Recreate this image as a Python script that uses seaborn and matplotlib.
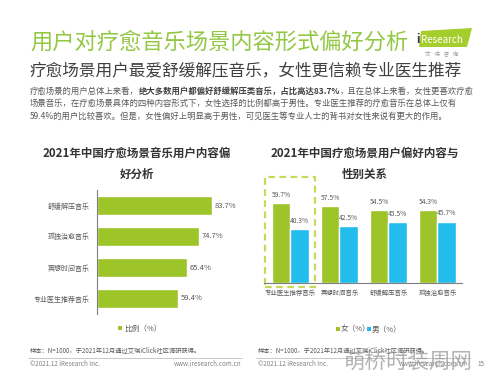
import matplotlib
matplotlib.use('Agg')
import matplotlib.pyplot as plt
import seaborn as sns
import pandas as pd
from matplotlib.patches import Rectangle, Polygon

# data
left_cats = ['舒缓解压音乐', '孤独治愈音乐', '冥想时间音乐', '专业医生推荐音乐']
left_vals = [83.7, 74.7, 65.4, 59.4]

right_cats = ['专业医生推荐音乐', '冥想时间音乐', '舒缓解压音乐', '孤独治愈音乐']
female_vals = [59.7, 57.5, 54.5, 54.3]
male_vals = [40.3, 42.5, 45.5, 45.7]

GREEN = '#9DC428'
BLUE = '#22BDEC'
TITLE_GREEN = '#93C844'
GREY = '#595959'

sns.set_theme(style='white')
plt.rcParams['font.family'] = ['Noto Sans CJK SC', 'DejaVu Sans']

fig = plt.figure(figsize=(4.98, 3.74), dpi=100)

# background axes in pixel coordinates for all the slide text
bg = fig.add_axes([0, 0, 1, 1], zorder=-1)
bg.set_xlim(0, 498)
bg.set_ylim(374, 0)
bg.axis('off')

bg.text(30, 42, '用户对疗愈音乐场景内容形式偏好分析', fontsize=16, color=TITLE_GREEN,
        va='center', ha='left')
bg.text(30, 71, '疗愈场景用户最爱舒缓解压音乐，女性更信赖专业医生推荐', fontsize=12,
        color='#404040', va='center', ha='left')

# iResearch logo
bg.add_patch(Polygon([[421, 31], [472, 28], [467, 47], [419, 47]], closed=True,
                     facecolor='#A5CD2C', edgecolor='none'))
bg.text(416, 39, 'i', fontsize=8.5, color='#333333', va='center', ha='left', fontweight='bold')
bg.text(421, 39.5, 'Research', fontsize=7, color='white', va='center', ha='left')
bg.text(442, 53, '艾   瑞   咨   询', fontsize=4, color='#999999', va='center', ha='center')

# paragraph with bold middle part
para_kw = dict(fontsize=6, color=GREY)
p1 = bg.text(30, 96, '疗愈场景的用户总体上来看，', va='bottom', ha='left', **para_kw)
p2 = bg.annotate('绝大多数用户都偏好舒缓解压类音乐，占比高达83.7%', xy=(1, 0), xycoords=p1,
                 va='bottom', ha='left', fontweight='bold', fontsize=6, color='#404040')
bg.annotate('，且在总体上来看，女性更喜欢疗愈', xy=(1, 0), xycoords=p2,
            va='bottom', ha='left', **para_kw)
bg.text(30, 108, '场景音乐，在疗愈场景具体的四种内容形式下，女性选择的比例都高于男性。专业医生推荐的疗愈音乐在总体上仅有',
        va='bottom', ha='left', **para_kw)
bg.text(30, 121, '59.4%的用户比较喜欢。但是，女性偏好上明显高于男性，可见医生等专业人士的背书对女性来说有更大的作用。',
        va='bottom', ha='left', **para_kw)

# chart titles
bg.text(137, 164, '2021年中国疗愈场景音乐用户内容偏\n好分析', fontsize=8.3, fontweight='bold',
        color='#333333', ha='center', va='center', linespacing=1.75)
bg.text(365, 164, '2021年中国疗愈场景用户偏好内容与\n性别关系', fontsize=8.3, fontweight='bold',
        color='#333333', ha='center', va='center', linespacing=1.75)

# left chart
ax1 = fig.add_axes([97 / 498, 1 - 314 / 374, 137 / 498, 124 / 374])
sns.barplot(x=left_vals, y=left_cats, color=GREEN, width=0.61, ax=ax1, saturation=1)
ax1.set_xlim(0, 100)
ax1.set_ylim(3.5, -0.5)
for s in ['top', 'right', 'bottom']:
    ax1.spines[s].set_visible(False)
ax1.spines['left'].set_color('#7f7f7f')
ax1.spines['left'].set_linewidth(0.8)
ax1.set_xticks([])
ax1.tick_params(axis='y', length=0, pad=5, labelsize=5, labelcolor=GREY)
ax1.set_xlabel('')
ax1.set_ylabel('')
ax1.bar_label(ax1.containers[0], fmt='%.1f%%', padding=2, fontsize=5.5, color=GREY)

# right chart
df = pd.DataFrame({
    '内容': right_cats * 2,
    '比例': female_vals + male_vals,
    '性别': ['女'] * len(right_cats) + ['男'] * len(right_cats),
})
ax2 = fig.add_axes([264 / 498, 1 - 283 / 374, 198 / 498, 94 / 374])
sns.barplot(data=df, x='内容', y='比例', hue='性别', palette=[GREEN, BLUE], width=0.77,
            ax=ax2, saturation=1, legend=False)
ax2.set_xlim(-0.54, 3.5)
ax2.set_ylim(0, 70)
for s in ['top', 'right', 'left']:
    ax2.spines[s].set_visible(False)
ax2.spines['bottom'].set_color('#7f7f7f')
ax2.spines['bottom'].set_linewidth(0.8)
ax2.set_yticks([])
ax2.tick_params(axis='x', length=0, pad=4, labelsize=4.6, labelcolor=GREY)
ax2.set_xlabel('')
ax2.set_ylabel('')
for c in ax2.containers:
    ax2.bar_label(c, fmt='%.1f%%', padding=3, fontsize=4.8, color=GREY)

ax2.add_patch(Rectangle((-0.515, -3), 1.01, 82, fill=False, edgecolor='#C8DA55',
                        linestyle=(0, (3, 2)), linewidth=1.6, clip_on=False))

# legends
bg.add_patch(Rectangle((118, 326), 4, 4, facecolor=GREEN, edgecolor='none'))
bg.text(124, 328.5, '比例（%）', fontsize=5.5, color=GREY, va='center', ha='left')
bg.add_patch(Rectangle((336, 327), 4, 4, facecolor=GREEN, edgecolor='none'))
bg.text(341, 329.5, '女（%）', fontsize=5.5, color=GREY, va='center', ha='left')
bg.add_patch(Rectangle((367, 327), 4, 4, facecolor=BLUE, edgecolor='none'))
bg.text(372, 329.5, '男（%）', fontsize=5.5, color=GREY, va='center', ha='left')

# footer
note = '样本：N=1000，于2021年12月通过艾瑞iClick社区调研获得。'
bg.text(30, 350, note, fontsize=4.5, color=GREY, va='center', ha='left')
bg.text(258, 350, note, fontsize=4.5, color=GREY, va='center', ha='left')
bg.plot([28, 242], [358, 358], color='#bfbfbf', lw=0.6)
bg.plot([256, 470], [358, 358], color='#bfbfbf', lw=0.6)
bg.text(30, 364, '©2021.12 iResearch Inc.', fontsize=4.5, color='#808080', va='center', ha='left')
bg.text(241, 364, 'www.iresearch.com.cn', fontsize=4.5, color='#808080', va='center', ha='right')
bg.text(258, 364, '©2021.12 iResearch Inc.', fontsize=4.5, color='#808080', va='center', ha='left')
bg.text(466, 364, 'www.iresearch.com.cn', fontsize=4.5, color='#808080', va='center', ha='right')
bg.text(484, 364, '15', fontsize=4.5, color='#808080', va='center', ha='right')
bg.text(408, 362, '萌桥时装周网', fontsize=15.5, color='#9a9a9a', alpha=0.75,
        va='center', ha='center')

fig.savefig('out.png', dpi=100)
